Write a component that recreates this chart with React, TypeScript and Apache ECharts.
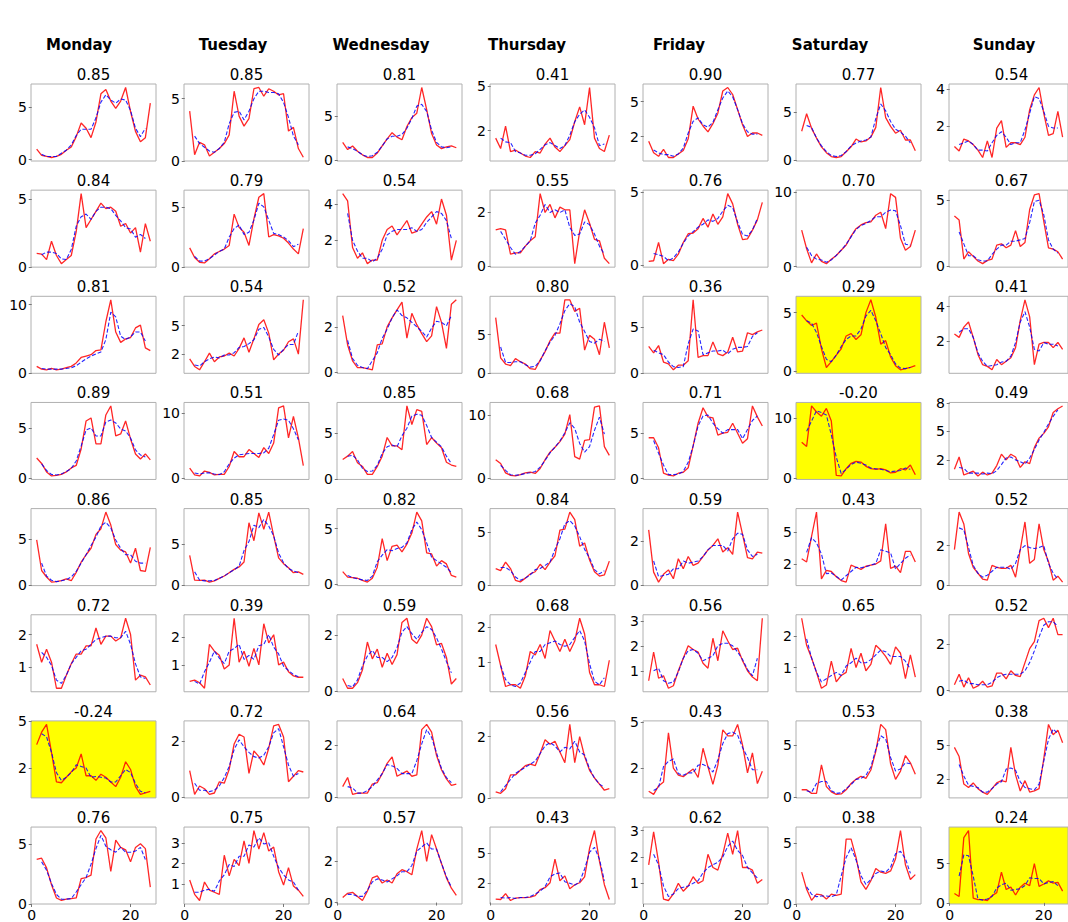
import React, { useEffect, useRef } from "react";
import * as echarts from "echarts";

const days = ["Monday", "Tuesday", "Wednesday", "Thursday", "Friday", "Saturday", "Sunday"];

const corr1 = ["0.85", "0.85", "0.81", "0.41", "0.90", "0.77", "0.54"];
const corr2 = ["0.84", "0.79", "0.54", "0.55", "0.76", "0.70", "0.67"];
const corr3 = ["0.81", "0.54", "0.52", "0.80", "0.36", "0.29", "0.41"];
const corr4 = ["0.89", "0.51", "0.85", "0.68", "0.71", "-0.20", "0.49"];
const corr5 = ["0.86", "0.85", "0.82", "0.84", "0.59", "0.43", "0.52"];
const corr6 = ["0.72", "0.39", "0.59", "0.68", "0.56", "0.65", "0.52"];
const corr7 = ["-0.24", "0.72", "0.64", "0.56", "0.43", "0.53", "0.38"];
const corr8 = ["0.76", "0.75", "0.57", "0.43", "0.62", "0.38", "0.24"];

// highlighted panels [row, col]
const highlighted = [[2, 5], [3, 5], [6, 0], [7, 6]];

// hour positions
const hours = [1, 2, 3, 4, 5, 6, 7, 8, 9, 10, 11, 12, 13, 14, 15, 16, 17, 18, 19, 20, 21, 22, 23, 24];
const smoothHours = [2, 3, 4, 5, 6, 7, 8, 9, 10, 11, 12, 13, 14, 15, 16, 17, 18, 19, 20, 21, 22, 23];
const xTicks = [0, 20];

const ticks1 = [[0, 5], [0, 5], [0, 5], [2, 5], [2, 5], [0, 5], [2, 4]];
const ticks2 = [[0, 5], [0, 5], [2, 4], [0, 2], [0, 5], [0, 10], [0, 5]];
const ticks3 = [[0, 10], [2, 5], [0, 2], [0, 5], [0, 5], [0, 5], [2, 4]];
const ticks4 = [[0, 5], [0, 10], [0, 5], [0, 10], [0, 5], [0, 10], [2, 5, 8]];
const ticks5 = [[0, 5], [0, 5], [0, 5], [0, 5], [0, 2], [2, 5], [0, 2]];
const ticks6 = [[1, 2], [1, 2], [0, 2], [1, 2], [1, 2, 3], [1, 2], [0, 2]];
const ticks7 = [[2, 5], [0, 2], [0, 2], [0, 2], [2, 5], [0, 5], [2, 5]];
const ticks8 = [[0, 5], [1, 2, 3], [0, 2], [2, 5], [1, 2, 3], [0, 5], [0, 5]];

const red1 = [
  [1.0,0.4,0.3,0.2,0.3,0.5,0.9,1.2,2.2,3.5,3.0,2.1,3.6,6.3,6.7,5.6,4.9,5.6,6.9,4.6,2.7,1.7,2.1,5.4],
  [4.0,0.5,1.5,1.3,0.4,0.7,1.0,1.4,2.1,5.6,3.6,2.8,3.4,5.8,5.9,5.2,5.8,5.6,5.3,5.4,2.4,2.7,1.0,0.3],
  [2.0,1.2,1.6,1.0,0.6,0.3,0.3,0.8,1.6,2.4,3.1,2.6,2.3,3.8,4.8,5.3,8.2,5.7,3.0,1.7,1.3,1.5,1.6,1.4],
  [1.5,0.8,2.3,0.6,0.7,0.5,0.3,0.2,0.6,0.5,1.1,1.5,0.9,0.6,1.0,1.4,2.6,3.6,2.4,4.9,1.5,0.8,0.6,1.7],
  [1.6,0.6,0.3,0.9,0.2,0.2,0.5,0.8,1.8,4.6,3.5,2.9,2.4,3.1,4.0,5.9,6.2,5.6,4.3,3.0,2.0,2.3,2.3,2.1],
  [3.0,4.8,3.3,2.3,1.4,0.8,0.4,0.3,0.4,0.9,1.4,2.2,1.9,2.0,2.4,3.4,7.5,4.4,3.5,2.8,3.1,2.1,2.1,1.0],
  [0.9,0.65,1.3,1.2,1.0,0.7,0.3,1.2,0.3,1.9,2.3,0.85,1.1,1.1,1.0,1.4,2.9,3.7,4.1,2.7,1.5,1.6,2.8,1.4],
];
const blue1 = [
  [0.5,0.3,0.3,0.3,0.6,0.9,1.4,2.3,2.9,2.9,2.9,4.0,5.5,6.2,5.7,5.4,5.8,5.7,4.7,3.0,2.2,3.0],
  [2.0,1.4,1.1,0.8,0.7,1.0,1.5,3.0,3.9,4.0,3.3,4.0,5.0,5.6,5.6,5.5,5.5,5.4,4.7,3.5,2.0,1.3],
  [1.5,1.3,1.0,0.6,0.4,0.5,0.9,1.6,2.4,2.7,2.7,2.9,3.6,4.7,6.1,6.3,5.5,3.4,2.0,1.5,1.4,1.5],
  [1.5,1.25,1.2,0.6,0.5,0.35,0.35,0.45,0.75,1.05,1.2,1.0,0.8,1.0,1.7,2.6,3.1,3.4,2.9,2.2,1.0,1.1],
  [0.85,0.6,0.45,0.45,0.3,0.5,1.0,2.3,3.3,3.6,3.0,2.8,3.2,4.3,5.3,5.9,5.4,4.3,3.1,2.4,2.2,2.2],
  [3.6,3.4,2.3,1.5,0.9,0.5,0.4,0.5,0.9,1.5,1.8,2.0,2.1,2.4,4.3,5.8,5.1,4.0,3.2,2.9,2.5,1.8],
  [1.0,1.1,1.2,1.0,0.7,0.7,0.65,1.1,1.5,1.7,1.4,1.0,1.1,1.1,1.8,2.7,3.6,3.5,2.8,2.0,1.9,1.9],
];

const red2 = [
  [1.0,0.95,0.55,1.9,0.85,0.25,0.55,0.85,2.6,5.4,2.9,3.5,4.1,4.7,4.3,4.4,4.1,3.0,3.2,2.5,2.9,1.1,3.2,1.9],
  [1.6,0.8,0.4,0.35,0.7,1.1,1.3,1.5,1.8,4.4,3.3,2.9,1.8,4.0,5.8,6.1,2.5,2.7,2.6,2.4,2.0,1.5,1.1,3.2],
  [4.6,4.2,1.6,1.0,1.3,0.7,0.9,0.9,2.0,2.6,2.8,2.3,2.7,3.1,2.4,2.5,2.9,3.3,3.6,2.9,4.3,3.4,0.9,2.0],
  [1.35,1.4,1.35,0.45,0.5,0.5,0.75,0.95,1.1,2.7,2.0,2.3,1.8,2.2,2.1,2.1,0.1,1.3,2.1,1.6,1.0,0.95,0.3,0.1],
  [0.25,0.3,1.55,0.1,0.4,0.3,0.75,1.55,2.15,2.2,2.5,3.2,2.6,3.5,2.8,3.3,4.9,4.2,2.8,1.75,1.8,2.4,3.1,4.3],
  [4.9,2.4,0.5,1.7,0.7,0.4,1.0,1.5,2.2,2.9,4.1,5.1,5.6,5.9,6.0,6.9,7.3,5.1,9.8,9.3,3.8,2.2,2.7,4.9],
  [3.8,3.5,0.55,1.1,0.75,0.4,0.2,0.45,0.55,1.6,1.7,1.4,1.6,2.7,1.5,1.8,4.3,5.4,5.5,3.4,1.4,1.3,1.1,0.55],
];
const blue2 = [
  [0.9,1.1,1.1,1.0,0.6,0.55,1.3,3.0,3.7,3.9,3.5,4.1,4.4,4.4,4.3,3.8,3.4,2.9,2.8,2.2,2.4,2.1],
  [0.9,0.5,0.5,0.7,1.0,1.3,1.5,2.5,3.2,3.5,2.7,2.9,3.9,5.3,5.0,3.9,2.8,2.7,2.5,2.2,1.7,1.9],
  [3.5,2.0,1.4,1.0,1.0,0.8,1.0,1.5,2.3,2.5,2.6,2.6,2.6,2.7,2.5,2.6,3.0,3.3,3.6,3.5,3.1,2.1],
  [1.3,1.0,0.7,0.45,0.55,0.75,0.95,1.6,1.9,2.3,2.0,2.1,2.0,2.1,1.45,1.15,1.2,1.65,1.55,1.2,0.75,0.45],
  [0.8,0.7,0.6,0.3,0.5,0.9,1.5,2.0,2.3,2.6,2.8,3.1,3.0,3.2,3.7,4.1,3.95,2.95,2.1,2.0,2.4,3.2],
  [2.6,1.5,1.0,0.9,0.6,0.9,1.5,2.2,3.0,4.0,5.0,5.5,5.8,6.2,6.7,6.7,7.3,7.6,7.5,5.5,3.0,2.9],
  [2.6,1.7,0.8,0.8,0.5,0.4,0.4,0.9,1.3,1.6,1.6,1.9,1.9,2.0,2.1,3.3,4.9,5.0,3.9,2.0,1.3,1.0],
];

const red3 = [
  [1.0,0.6,0.5,0.7,0.5,0.6,0.8,1.0,1.5,2.3,2.5,2.7,3.3,3.4,7.5,10.7,6.0,4.5,5.0,5.2,6.6,7.0,3.7,3.3],
  [1.5,0.7,0.35,1.2,2.1,1.2,1.7,1.8,2.1,1.8,2.6,3.7,2.2,3.6,5.1,5.6,4.2,1.4,2.0,2.4,3.3,3.6,2.0,7.7],
  [2.5,1.2,0.5,0.2,0.2,0.15,0.1,1.2,1.25,2.0,2.4,2.75,3.1,1.5,2.6,2.1,1.7,1.35,1.6,2.9,2.2,1.05,3.0,3.2],
  [7.2,2.0,1.2,1.0,1.9,1.5,1.2,0.6,0.5,1.7,2.8,4.2,5.2,5.2,9.5,9.5,8.0,8.4,3.0,4.9,4.4,2.4,6.6,3.3],
  [2.9,2.2,3.0,1.2,1.0,0.35,0.85,0.85,1.35,8.0,1.7,1.9,1.9,3.4,2.1,1.9,2.3,3.9,2.3,2.4,4.4,4.2,4.5,4.7],
  [4.8,4.3,3.9,4.1,1.9,0.3,0.8,1.35,1.9,3.0,3.2,2.7,3.1,5.0,6.1,4.6,2.3,2.6,1.2,0.45,0.1,0.2,0.3,0.45],
  [2.4,2.2,2.8,3.1,2.2,1.2,0.6,0.5,0.3,0.9,0.6,0.8,1.0,1.6,3.2,4.4,3.4,0.6,1.8,1.9,1.9,1.6,1.9,1.5],
];
const blue3 = [
  [0.7,0.6,0.6,0.6,0.6,0.7,0.8,1.1,1.6,2.1,2.5,2.8,3.1,4.9,8.9,8.2,5.4,4.9,5.3,6.0,6.0,4.7],
  [0.85,0.75,1.2,1.5,1.7,1.6,1.9,1.9,2.15,2.7,2.8,3.1,3.5,4.6,4.8,3.8,2.5,1.9,2.5,3.0,3.0,4.4],
  [1.4,0.6,0.3,0.2,0.15,0.5,0.85,1.5,1.9,2.4,2.75,2.5,2.4,2.2,2.0,1.8,1.55,1.95,2.25,2.2,2.05,2.5],
  [3.4,1.4,1.4,1.5,1.5,1.1,0.8,0.9,1.6,2.9,4.0,4.9,6.4,8.1,9.0,8.6,6.6,5.4,4.1,3.9,4.4,4.1],
  [2.5,2.2,2.0,1.2,0.7,0.6,0.7,3.2,4.8,4.6,2.0,2.2,2.4,2.4,2.5,2.1,2.6,2.8,2.8,2.9,4.0,4.4],
  [4.3,4.1,3.3,2.1,1.0,0.8,1.35,2.1,2.7,3.0,3.0,3.6,4.7,5.2,4.3,3.2,2.0,1.4,0.6,0.25,0.2,0.3],
  [2.5,2.7,2.7,2.2,1.3,0.8,0.5,0.55,0.6,0.75,0.8,1.1,1.9,3.1,3.7,2.8,1.5,1.4,1.9,1.8,1.8,1.7],
];

const red4 = [
  [2.0,1.45,0.6,0.2,0.25,0.35,0.6,1.0,1.25,2.9,5.7,6.0,3.4,3.4,6.3,7.2,4.2,4.4,5.7,3.9,2.4,1.9,2.4,1.8],
  [1.55,0.5,0.35,1.1,0.9,0.5,0.6,0.6,1.8,4.1,3.3,3.3,4.4,3.8,3.2,4.7,3.8,5.4,10.8,11.1,6.2,9.5,6.2,1.95],
  [2.15,2.5,3.0,1.8,1.4,0.55,0.55,1.4,2.5,4.5,3.6,3.6,3.2,7.9,5.9,7.5,7.3,3.75,4.5,3.9,3.4,1.85,1.55,1.4],
  [2.9,2.3,0.8,0.4,0.3,0.5,0.8,0.9,0.7,1.5,2.9,4.1,4.9,5.8,7.0,10.1,3.4,3.0,6.0,6.1,11.3,11.5,5.0,3.6],
  [4.5,4.5,3.4,0.6,0.4,0.3,0.6,0.7,1.2,3.6,6.1,7.8,6.8,6.7,4.8,5.0,5.1,6.1,5.0,3.9,4.4,8.0,6.8,5.8],
  [6.0,5.3,12.0,11.0,10.3,11.6,9.5,0.5,0.4,1.6,2.5,2.8,2.7,2.0,1.6,1.5,1.6,1.4,0.9,1.0,1.6,1.4,2.2,0.6],
  [1.0,2.3,0.4,0.6,0.8,0.3,0.7,0.4,0.6,1.4,2.6,2.0,2.6,2.3,1.2,1.8,1.6,3.3,4.3,4.8,5.5,7.0,7.4,7.7],
];
const blue4 = [
  [1.4,0.75,0.35,0.3,0.4,0.65,0.95,1.7,3.2,4.8,5.0,4.2,4.2,5.6,5.8,5.5,4.9,4.7,4.0,2.8,2.3,2.1],
  [0.8,0.65,0.8,0.85,0.65,0.55,1.0,2.2,3.1,3.6,3.7,3.8,3.8,3.8,3.9,4.6,6.7,8.9,9.1,8.9,7.6,5.9],
  [2.5,2.6,2.1,1.2,0.85,0.9,1.5,2.8,3.5,3.7,3.5,4.7,5.5,6.8,7.0,6.9,5.8,4.5,4.0,3.5,2.5,1.7],
  [2.0,1.2,0.5,0.4,0.5,0.7,0.8,1.0,1.7,2.8,4.0,4.9,5.9,7.2,8.8,7.9,5.5,4.1,5.0,7.6,9.7,7.0],
  [4.2,2.8,1.5,0.45,0.45,0.5,0.8,1.8,3.6,5.8,6.9,7.0,6.1,5.5,5.0,5.4,5.4,5.4,4.4,5.4,6.4,6.9],
  [7.8,9.5,11.2,10.9,10.5,7.2,3.5,0.8,1.5,2.3,2.7,2.5,2.2,1.7,1.6,1.5,1.3,1.1,1.2,1.3,1.7,1.5],
  [1.2,1.1,0.6,0.6,0.6,0.5,0.6,0.55,0.85,1.5,2.2,2.3,2.0,1.8,1.55,2.2,3.1,4.1,4.9,5.8,6.6,7.3],
];

const red5 = [
  [4.9,1.6,0.9,0.35,0.4,0.5,0.7,0.5,1.4,2.5,3.3,4.0,5.5,6.1,7.9,6.5,4.4,3.8,3.6,2.4,4.0,1.6,1.5,4.1],
  [3.6,0.6,0.55,0.6,0.35,0.5,0.8,1.1,1.5,1.9,2.2,2.8,7.6,5.4,8.8,6.8,8.9,6.0,3.3,2.6,2.1,1.5,1.6,1.3],
  [1.1,0.6,0.55,0.5,0.3,0.15,0.5,1.5,4.1,2.1,3.4,3.5,2.9,3.6,4.6,6.5,5.7,2.8,2.7,1.6,2.1,1.8,0.75,0.6],
  [1.6,1.4,2.2,1.6,0.5,0.35,0.7,1.1,1.3,2.0,1.5,2.2,2.8,5.2,5.3,6.9,6.2,3.7,4.0,2.4,1.3,0.9,1.0,2.3],
  [2.5,0.6,0.15,0.5,0.7,0.3,1.2,0.75,1.3,0.9,1.0,1.3,1.6,1.8,2.1,1.5,1.7,1.4,3.3,2.3,1.25,1.2,1.5,1.45],
  [2.5,2.2,4.6,6.9,0.6,1.4,1.3,0.8,0.45,0.3,1.9,1.7,1.5,1.8,1.9,2.0,2.3,5.8,1.6,1.8,1.2,3.2,3.2,2.2],
  [1.8,3.7,3.1,1.6,0.9,0.6,0.3,0.25,1.0,0.9,0.85,0.85,1.0,0.4,1.8,3.2,1.1,1.3,3.1,1.8,1.2,0.25,0.45,0.15],
];
const blue5 = [
  [2.4,1.0,0.55,0.4,0.5,0.6,0.9,1.5,2.4,3.3,4.3,5.2,6.4,6.8,6.2,4.9,4.0,3.3,3.3,2.6,2.4,2.4],
  [1.6,0.6,0.5,0.5,0.55,0.8,1.1,1.5,1.85,2.3,4.2,5.3,7.3,7.0,8.0,7.2,6.0,3.9,2.7,2.0,1.7,1.5],
  [0.75,0.55,0.45,0.35,0.3,0.7,2.0,2.6,3.1,3.0,3.2,3.3,3.7,4.9,5.6,4.9,3.7,2.4,2.1,1.8,1.5,1.0],
  [1.7,1.7,1.4,0.8,0.5,0.7,1.0,1.5,1.6,1.9,2.2,3.4,4.4,5.8,6.1,5.6,4.6,3.4,2.6,1.5,1.1,1.4],
  [1.1,0.4,0.45,0.5,0.75,0.75,1.1,1.0,1.05,1.1,1.3,1.6,1.8,1.8,1.8,1.55,2.1,2.35,2.3,1.6,1.3,1.4],
  [3.1,4.5,4.0,2.95,1.1,1.15,0.85,0.5,0.9,1.3,1.7,1.65,1.75,1.9,2.05,3.35,3.2,3.05,1.55,2.05,2.55,2.85],
  [2.9,2.8,1.9,1.0,0.6,0.4,0.5,0.7,0.9,0.9,0.9,0.8,1.1,1.8,2.0,1.9,1.85,1.9,2.0,1.1,0.6,0.3],
];

const red6 = [
  [1.7,1.15,1.55,1.15,0.35,0.35,0.75,1.1,1.4,1.4,1.65,1.65,2.2,1.7,1.95,1.95,1.8,1.9,2.5,2.0,0.6,0.75,0.7,0.45],
  [0.4,0.45,0.35,0.15,1.75,1.5,1.35,0.85,1.0,2.7,1.1,1.5,0.95,1.6,1.0,2.5,1.8,2.1,1.0,1.1,0.75,0.6,0.55,0.55],
  [0.45,0.1,0.1,0.3,0.75,1.75,1.15,1.5,0.85,1.35,0.95,1.3,2.45,2.6,1.85,1.7,2.0,2.6,2.3,1.65,1.7,1.2,0.25,0.45],
  [1.5,0.9,0.3,0.35,0.35,0.25,0.6,1.3,1.2,1.5,1.1,1.9,1.6,1.3,1.65,1.3,1.6,2.25,1.8,0.7,0.35,0.35,0.3,1.05],
  [0.6,1.75,0.7,0.8,0.3,0.4,1.0,1.5,2.0,1.85,1.75,1.3,1.1,2.3,1.4,2.6,2.2,1.85,1.9,1.4,1.0,0.75,0.6,3.1],
  [2.55,1.7,1.3,0.85,0.35,0.45,1.2,0.55,0.75,0.85,1.6,1.0,1.45,0.9,1.1,1.7,1.55,1.35,1.1,1.65,1.45,0.65,1.4,0.7],
  [0.25,0.7,0.15,0.55,0.1,0.2,0.4,0.15,0.2,0.75,0.75,0.5,0.85,0.65,0.6,1.2,1.8,2.1,3.0,3.1,2.7,3.1,2.4,2.4],
];
const blue6 = [
  [1.45,1.3,1.05,0.6,0.5,0.75,1.1,1.3,1.5,1.55,1.7,1.85,1.9,1.95,1.95,1.9,1.9,2.1,1.7,1.1,0.7,0.65],
  [0.4,0.3,0.75,1.1,1.5,1.25,1.05,1.5,1.6,1.75,1.2,1.35,1.2,1.7,1.75,2.1,1.65,1.4,0.95,0.8,0.65,0.57],
  [0.2,0.15,0.4,0.9,1.25,1.45,1.2,1.2,1.05,1.2,1.55,2.1,2.3,2.05,1.85,2.1,2.3,2.2,1.9,1.5,1.05,0.65],
  [0.9,0.5,0.35,0.3,0.4,0.7,1.0,1.3,1.3,1.5,1.55,1.6,1.5,1.45,1.5,1.7,1.9,1.6,0.95,0.45,0.35,0.55],
  [1.0,1.1,0.6,0.5,0.55,0.95,1.5,1.8,1.85,1.7,1.4,1.5,1.6,2.0,2.1,2.1,2.0,1.75,1.45,1.05,0.8,1.5],
  [1.9,1.3,0.85,0.55,0.65,0.75,0.85,0.75,1.05,1.15,1.3,1.15,1.15,1.25,1.4,1.55,1.5,1.35,1.35,1.35,1.2,0.95],
  [0.4,0.45,0.3,0.3,0.25,0.25,0.25,0.35,0.55,0.65,0.7,0.7,0.7,0.7,0.85,1.2,1.7,2.3,2.8,2.95,2.95,2.75],
];

const red7 = [
  [3.5,4.3,4.8,3.0,1.1,1.05,1.4,1.75,2.0,2.9,1.5,1.5,1.2,1.6,1.4,1.1,0.8,1.4,2.4,1.9,0.8,0.3,0.4,0.5],
  [0.95,0.1,0.4,0.3,0.1,0.15,0.55,0.5,1.0,1.9,2.25,2.15,0.85,1.65,1.45,1.15,1.75,2.55,2.6,2.15,0.55,0.75,0.95,0.9],
  [0.4,0.75,0.1,0.15,0.15,0.15,0.5,0.55,0.9,1.3,1.55,0.8,0.9,1.0,0.8,0.85,2.6,2.8,2.5,1.6,1.05,0.7,0.45,0.5],
  [0.2,0.15,0.3,0.75,0.75,0.9,1.05,1.1,1.05,1.45,1.9,1.75,1.85,1.5,1.15,2.4,1.15,2.0,1.35,0.9,0.65,0.45,0.25,0.3],
  [0.5,0.3,0.85,1.1,4.3,2.0,1.55,1.45,1.7,1.95,1.4,3.3,2.1,0.95,2.2,4.5,4.1,4.1,4.85,3.5,1.7,3.0,1.0,1.8],
  [0.7,0.7,0.35,0.35,3.1,1.0,0.5,0.25,0.3,0.7,1.3,1.7,2.0,1.8,2.6,4.4,7.0,6.5,3.2,1.7,2.5,4.0,3.3,2.2],
  [4.8,4.0,1.6,1.3,1.7,1.2,0.9,0.7,1.2,1.7,1.9,1.8,4.8,2.4,1.0,1.9,0.9,1.0,1.2,3.8,6.8,5.9,6.3,5.2],
];
const blue7 = [
  [4.2,4.0,3.0,1.7,1.2,1.4,1.7,2.2,2.1,2.0,1.4,1.45,1.4,1.35,1.1,1.1,1.5,1.9,1.7,1.0,0.5,0.4],
  [0.5,0.25,0.25,0.2,0.25,0.4,0.7,1.1,1.7,2.05,1.8,1.6,1.45,1.4,1.5,1.8,2.3,2.45,1.8,1.15,0.75,0.85],
  [0.4,0.35,0.15,0.15,0.25,0.4,0.65,0.9,1.25,1.2,1.1,0.9,0.9,0.9,1.4,2.05,2.6,2.3,1.7,1.1,0.75,0.55],
  [0.2,0.4,0.6,0.8,0.9,1.0,1.1,1.2,1.45,1.7,1.8,1.7,1.5,1.65,1.6,1.85,1.5,1.4,0.95,0.65,0.45,0.35],
  [0.55,0.75,2.1,2.45,2.6,1.65,1.55,1.7,1.7,2.2,2.25,2.1,1.75,2.55,3.6,4.25,4.35,4.15,3.35,2.7,1.9,1.9],
  [0.6,0.45,1.3,1.5,1.5,0.6,0.35,0.4,0.8,1.2,1.7,1.8,2.1,2.9,4.6,5.9,5.6,3.8,2.5,2.7,3.3,3.2],
  [3.3,2.3,1.5,1.4,1.3,0.9,0.9,1.2,1.6,1.8,2.9,3.0,2.8,1.8,1.3,1.2,1.1,1.6,3.6,5.5,6.4,6.0],
];

const red8 = [
  [3.7,3.8,3.0,1.6,0.5,0.3,0.4,0.45,0.5,2.1,2.2,2.4,5.4,6.1,5.5,2.7,5.3,4.7,4.5,3.5,4.7,5.0,4.6,1.4],
  [1.2,0.5,0.2,1.1,0.7,0.6,0.5,2.4,1.4,2.2,1.9,3.1,2.0,3.6,2.7,3.5,2.6,2.8,1.6,0.95,1.8,0.9,0.7,0.4],
  [0.25,0.45,0.5,0.3,0.1,0.55,1.2,1.3,0.95,1.1,0.95,1.4,1.6,1.5,1.35,2.6,3.5,2.0,3.3,2.6,1.9,1.2,0.7,0.35],
  [0.35,0.3,0.9,0.2,0.45,0.5,0.5,0.55,0.7,1.3,1.5,2.0,4.4,2.2,2.7,1.4,1.8,2.0,2.6,5.5,7.3,4.2,1.8,0.3],
  [1.7,2.95,1.8,0.4,0.35,0.6,1.0,0.7,0.9,1.25,1.0,1.1,2.1,1.6,1.5,2.1,2.9,2.1,3.0,1.6,1.6,1.5,1.0,1.15],
  [2.6,1.2,0.3,0.8,0.75,0.4,0.8,0.7,0.8,5.3,5.3,3.8,1.8,1.2,1.9,2.9,2.6,2.5,2.7,3.7,6.0,3.2,2.0,2.4],
  [1.2,0.8,8.3,9.2,0.6,0.4,0.4,0.3,0.9,1.3,3.9,1.7,2.0,1.0,2.0,2.5,2.2,5.0,2.1,2.4,2.8,2.5,2.6,1.5],
];
const blue8 = [
  [3.5,2.8,1.7,0.8,0.4,0.4,0.45,1.0,1.6,2.2,3.3,4.6,5.7,4.8,4.5,4.3,4.7,4.3,4.3,4.4,4.7,3.7],
  [0.6,0.6,0.7,0.75,0.65,1.15,1.45,1.95,1.85,2.35,2.35,2.9,2.8,3.25,2.95,3.0,2.35,1.8,1.45,1.2,1.1,0.7],
  [0.4,0.4,0.3,0.3,0.6,1.0,1.15,1.1,1.0,1.15,1.3,1.5,1.5,1.8,2.5,2.7,2.9,2.6,2.6,1.9,1.25,0.75],
  [0.5,0.45,0.5,0.4,0.5,0.5,0.6,0.85,1.15,1.6,2.6,2.9,3.0,2.1,1.95,1.75,2.1,3.4,5.1,5.6,4.4,2.2],
  [2.1,1.7,0.9,0.5,0.6,0.8,0.85,0.9,1.0,1.1,1.4,1.6,1.7,1.8,2.0,2.4,2.6,2.25,2.05,1.6,1.4,1.2],
  [1.4,0.8,0.6,0.65,0.65,0.6,0.75,2.3,3.8,4.6,3.6,2.3,1.6,2.0,2.5,2.7,2.6,3.0,4.1,4.3,3.7,2.5],
  [3.4,6.1,6.0,3.4,0.5,0.35,0.5,0.8,1.9,2.3,2.5,1.6,1.7,1.8,2.2,3.2,3.1,3.1,2.4,2.6,2.7,2.2],
];

const FONT = "'DejaVu Sans', 'Liberation Sans', sans-serif";

export default function App() {
  const ref = useRef<HTMLDivElement>(null);

  useEffect(() => {
    if (!ref.current) return;
    const chart = echarts.init(ref.current, null, { renderer: "svg" });

    const reds = [red1, red2, red3, red4, red5, red6, red7, red8];
    const blues = [blue1, blue2, blue3, blue4, blue5, blue6, blue7, blue8];
    const corrs = [corr1, corr2, corr3, corr4, corr5, corr6, corr7, corr8];
    const ticks = [ticks1, ticks2, ticks3, ticks4, ticks5, ticks6, ticks7, ticks8];

    const panelW = 125;
    const panelH = 77;
    const colLeft = (c: number) => 31 + 153 * c;
    const rowTop = (r: number) => 84 + 106.15 * r;
    const dayX = [79, 233, 381, 527, 679, 830, 1004];

    const grids: any[] = [];
    const xAxes: any[] = [];
    const yAxes: any[] = [];
    const series: any[] = [];
    const graphics: any[] = [];

    days.forEach((d, c) => {
      graphics.push({
        type: "text",
        x: dayX[c],
        y: 45,
        silent: true,
        style: {
          text: d,
          fill: "#000",
          fontSize: 15,
          fontWeight: "bold",
          fontFamily: FONT,
          align: "center",
          verticalAlign: "middle",
        },
      });
    });

    for (let r = 0; r < 8; r++) {
      for (let c = 0; c < 7; c++) {
        const idx = r * 7 + c;
        const left = colLeft(c);
        const top = rowTop(r);
        const hl = highlighted.some(([hr, hc]) => hr === r && hc === c);
        const red = reds[r][c];
        const blue = blues[r][c];
        const tk = ticks[r][c];
        const all = red.concat(blue);
        const lo = Math.min(...all);
        const hi = Math.max(...all);
        const pad = (hi - lo) * 0.05;
        const yMin = Math.min(lo - pad, Math.min(...tk));
        const yMax = Math.max(hi + pad, Math.max(...tk));

        grids.push({
          left,
          top,
          width: panelW,
          height: panelH,
          show: true,
          borderColor: "#b0b0b0",
          borderWidth: 1,
          backgroundColor: hl ? "#ffff00" : "#ffffff",
        });

        const bottom = r === 7;
        xAxes.push({
          gridIndex: idx,
          type: "value",
          min: -0.15,
          max: 25.15,
          splitLine: { show: false },
          axisLine: { show: false },
          axisTick: bottom
            ? { show: true, length: 3, customValues: xTicks, lineStyle: { color: "#777" } }
            : { show: false },
          axisLabel: bottom
            ? { show: true, customValues: xTicks, fontSize: 14, color: "#000", margin: 4, fontFamily: FONT }
            : { show: false },
        });

        yAxes.push({
          gridIndex: idx,
          type: "value",
          min: yMin,
          max: yMax,
          splitLine: { show: false },
          axisLine: { show: false },
          axisTick: { show: true, length: 3, customValues: tk, lineStyle: { color: "#777" } },
          axisLabel: { show: true, customValues: tk, fontSize: 14, color: "#000", margin: 4, fontFamily: FONT },
        });

        series.push({
          type: "line",
          xAxisIndex: idx,
          yAxisIndex: idx,
          data: red.map((v, i) => [hours[i], v]),
          showSymbol: false,
          silent: true,
          z: 2,
          lineStyle: { color: "#ff0000", width: 1.3, opacity: 0.85 },
        });
        series.push({
          type: "line",
          xAxisIndex: idx,
          yAxisIndex: idx,
          data: blue.map((v, i) => [smoothHours[i], v]),
          showSymbol: false,
          silent: true,
          z: 3,
          lineStyle: { color: "#0000ff", width: 1.1, type: [4, 2], opacity: 0.85 },
        });

        graphics.push({
          type: "text",
          x: left + panelW / 2,
          y: top - 9,
          silent: true,
          style: {
            text: corrs[r][c],
            fill: "#000",
            fontSize: 15,
            fontFamily: FONT,
            align: "center",
            verticalAlign: "middle",
          },
        });
      }
    }

    chart.setOption({
      animation: false,
      backgroundColor: "#ffffff",
      grid: grids,
      xAxis: xAxes,
      yAxis: yAxes,
      series,
      graphic: graphics,
    });

    return () => chart.dispose();
  }, []);

  return (
    <div
      style={{ position: "fixed", left: 0, top: 0, width: 1068, height: 922, overflow: "hidden", background: "#fff" }}
    >
      <div ref={ref} style={{ width: 1068, height: 922 }} />
    </div>
  );
}
